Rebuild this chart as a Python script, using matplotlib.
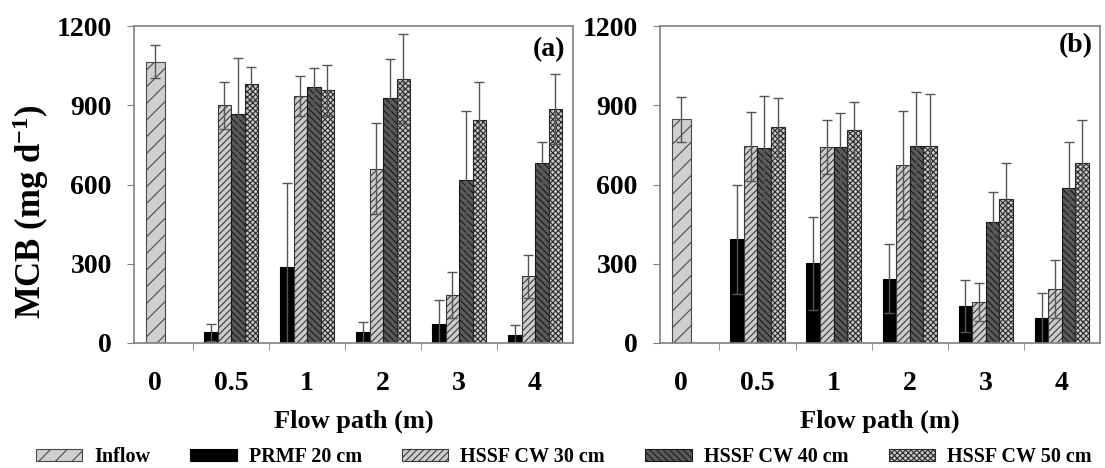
import matplotlib
matplotlib.use("Agg")
import matplotlib.pyplot as plt
import numpy as np

plt.rcParams['font.family'] = ['Liberation Serif', 'DejaVu Serif']
plt.rcParams['font.weight'] = 'bold'
plt.rcParams['mathtext.fontset'] = 'custom'
plt.rcParams['mathtext.rm'] = 'Liberation Serif:bold'
plt.rcParams['mathtext.bf'] = 'Liberation Serif:bold'
plt.rcParams['mathtext.default'] = 'bf'
plt.rcParams['hatch.linewidth'] = 0.8

categories = ["0", "0.5", "1", "2", "3", "4"]
series = ["Inflow", "PRMF 20 cm", "HSSF CW 30 cm", "HSSF CW 40 cm", "HSSF CW 50 cm"]

# Panel (a)
a_inflow = 1065
a_inflow_err = 62
a_prmf = [40, 287, 40, 71, 30]
a_prmf_err = [33, 318, 38, 93, 39]
a_h30 = [900, 935, 660, 180, 252]
a_h30_err = [89, 77, 172, 87, 81]
a_h40 = [867, 968, 926, 618, 683]
a_h40_err = [213, 74, 149, 261, 76]
a_h50 = [981, 957, 998, 846, 885]
a_h50_err = [65, 97, 170, 141, 133]

# Panel (b)
b_inflow = 847
b_inflow_err = 86
b_prmf = [393, 301, 243, 141, 93]
b_prmf_err = [206, 176, 130, 98, 96]
b_h30 = [745, 741, 673, 156, 205]
b_h30_err = [130, 102, 204, 73, 110]
b_h40 = [738, 741, 746, 457, 585]
b_h40_err = [197, 129, 205, 113, 176]
b_h50 = [816, 806, 746, 544, 681]
b_h50_err = [113, 108, 198, 139, 162]

styles = [
    dict(facecolor='#cfcfcf', hatch='//', edgecolor='#4a4a4a'),
    dict(facecolor='#000000', hatch=None, edgecolor='#000000'),
    dict(facecolor='#cccccc', hatch='/////', edgecolor='#3a3a3a'),
    dict(facecolor='#5a5a5a', hatch='\\\\\\\\\\', edgecolor='#1a1a1a'),
    dict(facecolor='#c8c8c8', hatch='xxxxxx', edgecolor='#2a2a2a'),
]

fig = plt.figure(figsize=(11.05, 4.68), dpi=100)
ax_a = fig.add_axes([134/1105, 1-343/468, 439/1105, 317/468])
ax_b = fig.add_axes([660/1105, 1-343/468, 440/1105, 317/468])

w = 0.178
w_in = 0.25

def draw(ax, inflow, inflow_err, groups, errs, label, lx, ly):
    h = ax.bar([0], [inflow], width=w_in, linewidth=0.8, **styles[0])
    ax.errorbar([0], [inflow], yerr=[inflow_err], fmt='none', ecolor='#555555',
                elinewidth=1, capsize=3.3, capthick=1)
    hs = [h]
    xs = np.arange(1, 6)
    for k, (vals, er) in enumerate(zip(groups, errs)):
        off = (k - 1.5) * w
        st = styles[k + 1]
        b = ax.bar(xs + off, vals, width=w, linewidth=0.8, **st)
        ax.errorbar(xs + off, vals, yerr=er, fmt='none', ecolor='#555555',
                    elinewidth=1, capsize=3.3, capthick=1)
        hs.append(b)
    ax.set_xlim(-0.28, 5.5)
    ax.set_ylim(0, 1200)
    ax.set_yticks([0, 300, 600, 900, 1200])
    ax.set_yticklabels(['0', '300', '600', '900', '1200'], fontsize=20, fontweight='bold')
    ax.set_xticks(np.arange(0, 6))
    ax.set_xticklabels(categories, fontsize=20, fontweight='bold')
    ax.set_xticks(np.arange(0.5, 5.0, 1.0), minor=True)
    ax.tick_params(axis='x', which='major', length=0, pad=20)
    ax.tick_params(axis='x', which='minor', length=5, color='#808080', direction='out')
    ax.tick_params(axis='y', length=5, color='#808080', direction='out', pad=11)
    for s in ax.spines.values():
        s.set_color('#808080')
        s.set_linewidth(1.2)
    ax.set_xlabel('Flow path (m)', fontsize=19, fontweight='bold', labelpad=10)
    ax.text(lx, ly, label, transform=ax.transAxes, ha='right', va='center',
            fontsize=20, fontweight='bold')
    return hs

handles = draw(ax_a, a_inflow, a_inflow_err, [a_prmf, a_h30, a_h40, a_h50],
               [a_prmf_err, a_h30_err, a_h40_err, a_h50_err], '(a)', 0.982, 0.925)
draw(ax_b, b_inflow, b_inflow_err, [b_prmf, b_h30, b_h40, b_h50],
     [b_prmf_err, b_h30_err, b_h40_err, b_h50_err], '(b)', 0.984, 0.937)

fig.text(31/1105, 1-212/468, 'MCB (mg d$^{-1}$)', rotation=90, ha='center', va='center',
         fontsize=25, fontweight='bold')

fig.legend(handles, series, loc='center', bbox_to_anchor=(0.51, 1-457/468),
           ncol=5, frameon=False, fontsize=14.5, handlelength=2.3, handleheight=0.55,
           columnspacing=2.0, handletextpad=0.6, borderaxespad=0)

fig.savefig('out.png', dpi=100)
